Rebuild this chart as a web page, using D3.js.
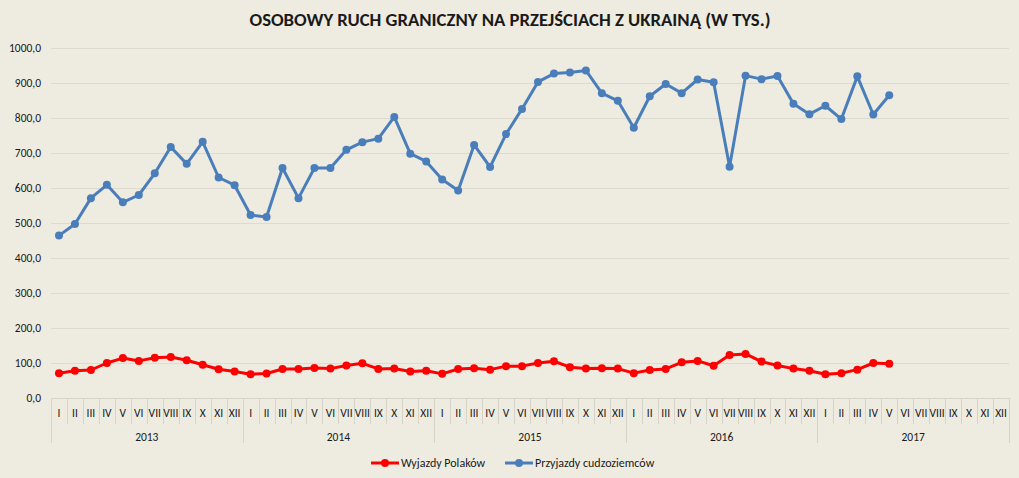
<!DOCTYPE html>
<html><head><meta charset="utf-8">
<script src="https://cdn.jsdelivr.net/npm/d3@7"></script>
<style>
html,body{margin:0;padding:0;background:#EEECE1;}
svg{display:block;font-family:Carlito,"Open Sans","Liberation Sans",sans-serif;}
</style></head><body>
<svg id="chart" width="1019" height="478"></svg>
<script>
const years = ["2013","2014","2015","2016","2017"];
const months = ["I","II","III","IV","V","VI","VII","VIII","IX","X","XI","XII"];
const yTicks = [0,100,200,300,400,500,600,700,800,900,1000];
const seriesNames = ["Wyjazdy Polaków","Przyjazdy cudzoziemców"];
const wyjazdyPolakow = [
  71,78,80,100,114,106,115,117,108,95,82,76,
  68,70,83,83,86,84,93,99,83,84,76,78,
  69,83,85,81,91,91,100,105,88,84,85,84,
  71,80,83,102,106,92,123,126,104,93,84,78,
  68,71,81,100,98
];
const przyjazdyCudzoziemcow = [
  464,497,571,609,559,580,642,717,669,732,630,608,
  523,517,657,571,657,657,709,731,741,803,698,676,
  624,593,723,660,754,826,903,927,930,936,871,849,
  772,862,897,871,910,902,661,921,911,920,841,811,
  835,797,919,810,865
];

const svg = d3.select("#chart");
const margin = {left:51, right:1009, top:48, bottom:398};
const cats = [];
years.forEach(y => months.forEach(m => cats.push(y + "-" + m)));

const x = d3.scaleBand().domain(cats).range([margin.left, margin.right]);
const y = d3.scaleLinear().domain([0,1000]).range([margin.bottom, margin.top]);

// title
svg.append("text").attr("x",510).attr("y",26).attr("text-anchor","middle")
  .attr("font-size",17).attr("font-weight","bold").attr("fill","#1a1a1a")
  .attr("textLength",521).attr("lengthAdjust","spacingAndGlyphs")
  .text("OSOBOWY RUCH GRANICZNY NA PRZEJŚCIACH Z UKRAINĄ (W TYS.)");

// gridlines
svg.append("g").selectAll("line").data(yTicks.filter(d=>d>0)).join("line")
  .attr("x1",margin.left).attr("x2",margin.right)
  .attr("y1",d=>y(d)+0.5).attr("y2",d=>y(d)+0.5)
  .attr("stroke","#DDDAD0").attr("stroke-width",1);

// y labels
svg.append("g").selectAll("text").data(yTicks).join("text")
  .attr("x",41).attr("y",d=>y(d)+4).attr("text-anchor","end")
  .attr("font-size",11.5).attr("fill","#1a1a1a")
  .text(d=>d3.format(".1f")(d).replace(".",","));

// x axis line
svg.append("line").attr("x1",margin.left).attr("x2",margin.right)
  .attr("y1",margin.bottom+0.5).attr("y2",margin.bottom+0.5)
  .attr("stroke","#D6D3C9");

// category tick lines
const bw = x.bandwidth();
svg.append("g").selectAll("line").data(cats.concat(["end"])).join("line")
  .attr("x1",(d,i)=>Math.round(margin.left + i*bw)+0.5)
  .attr("x2",(d,i)=>Math.round(margin.left + i*bw)+0.5)
  .attr("y1",margin.bottom)
  .attr("y2",(d,i)=> (i%12===0) ? 443 : 424)
  .attr("stroke","#D6D3C9");

// month labels
svg.append("g").selectAll("text").data(cats).join("text")
  .attr("x",d=>x(d)+bw/2).attr("y",417).attr("text-anchor","middle")
  .attr("font-size",11.5).attr("fill","#1a1a1a")
  .text(d=>d.split("-")[1]);

// year labels
svg.append("g").selectAll("text").data(years).join("text")
  .attr("x",d=>x(d+"-I") + bw*6).attr("y",441).attr("text-anchor","middle")
  .attr("font-size",11.5).attr("fill","#1a1a1a")
  .text(d=>d);

const line = d3.line().x((d,i)=>x(cats[i])+bw/2).y(d=>y(d));

function drawSeries(data, color){
  svg.append("path").datum(data).attr("d",line)
    .attr("fill","none").attr("stroke",color).attr("stroke-width",3)
    .attr("stroke-linejoin","round");
  svg.append("g").selectAll("circle").data(data).join("circle")
    .attr("cx",(d,i)=>x(cats[i])+bw/2).attr("cy",d=>y(d)).attr("r",4)
    .attr("fill",color);
}
drawSeries(przyjazdyCudzoziemcow, "#4A7EBB");
drawSeries(wyjazdyPolakow, "#FF0000");

// legend
const legend = [
  {name:seriesNames[0], color:"#FF0000", x:371},
  {name:seriesNames[1], color:"#4A7EBB", x:505}
];
const lg = svg.append("g");
legend.forEach(l=>{
  lg.append("line").attr("x1",l.x).attr("x2",l.x+28).attr("y1",463).attr("y2",463)
    .attr("stroke",l.color).attr("stroke-width",3);
  lg.append("circle").attr("cx",l.x+14).attr("cy",463).attr("r",4).attr("fill",l.color);
  lg.append("text").attr("x",l.x+30).attr("y",467).attr("font-size",12)
    .attr("fill","#1a1a1a").text(l.name);
});
</script></body></html>
